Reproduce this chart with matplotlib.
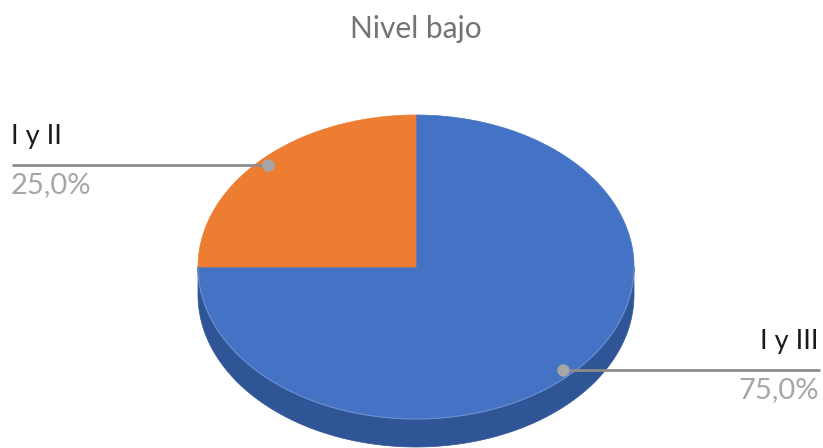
import numpy as np
import matplotlib.pyplot as plt
from matplotlib.patches import Polygon

labels = ['I y III', 'I y II']
values = [75.0, 25.0]
top_colors = ['#4472C4', '#ED7D31']
side_colors = ['#2F5597', '#AE5A21']
title = 'Nivel bajo'

plt.rcParams['font.family'] = ['Lato', 'DejaVu Sans']

fig = plt.figure(figsize=(8.23, 4.48), dpi=100)
ax = fig.add_axes([0, 0, 1, 1])
ax.set_xlim(0, 823)
ax.set_ylim(448, 0)
ax.axis('off')

# ellipse geometry in pixel units
cx, cy = 416, 267
rx, ry = 218, 152
depth = 28


def ell(t):
    return cx + rx * np.cos(t), cy - ry * np.sin(t)


# slice angles, clockwise from the top like the spreadsheet pie
fracs = np.array(values) / sum(values)
starts = np.pi / 2 - 2 * np.pi * np.concatenate([[0], np.cumsum(fracs)[:-1]])
ends = starts - 2 * np.pi * fracs

# side wall (front half only)
for s, e, col in zip(starts, ends, side_colors):
    for off in (0, 2 * np.pi, -2 * np.pi):
        a, b = max(min(s, e) + off, -np.pi), min(max(s, e) + off, 0)
        if b > a:
            t = np.linspace(a, b, 200)
            x, y = ell(t)
            pts = np.vstack([np.column_stack([x, y]),
                             np.column_stack([x[::-1], y[::-1] + depth])])
            ax.add_patch(Polygon(pts, closed=True, fc=col, ec=col, lw=0.5))

# top faces
for s, e, col in zip(starts, ends, top_colors):
    t = np.linspace(s, e, 300)
    x, y = ell(t)
    pts = np.vstack([[cx, cy], np.column_stack([x, y])])
    ax.add_patch(Polygon(pts, closed=True, fc=col, ec=col, lw=0.5, zorder=2))

# faint rim between face and wall
t = np.linspace(-np.pi, 0, 200)
x, y = ell(t)
ax.plot(x, y, color='#6C8FD0', lw=0.8, zorder=3)

# data labels with leader lines
label_pos = {
    'I y II': dict(dot=(268, 165), line_end=12, tx=11, ha='left'),
    'I y III': dict(dot=(563, 370), line_end=820, tx=819, ha='right'),
}
for lab, val in zip(labels, values):
    p = label_pos[lab]
    dx, dy = p['dot']
    ax.plot([p['line_end'], dx], [dy, dy], color='#8C8C8C', lw=2, zorder=4,
            solid_capstyle='butt')
    ax.plot(dx, dy, 'o', color='#A6A6A6', ms=8, zorder=5)
    ax.text(p['tx'], dy - 21, lab, ha=p['ha'], va='baseline', fontsize=19.5,
            color='#1A1A1A')
    ax.text(p['tx'], dy + 28, f'{val:.1f}%'.replace('.', ','), ha=p['ha'],
            va='baseline', fontsize=21, color='#A6A6A6')

ax.text(416, 38, title, ha='center', va='baseline', fontsize=21.5, color='#737373')

fig.savefig('out.png', dpi=100)
